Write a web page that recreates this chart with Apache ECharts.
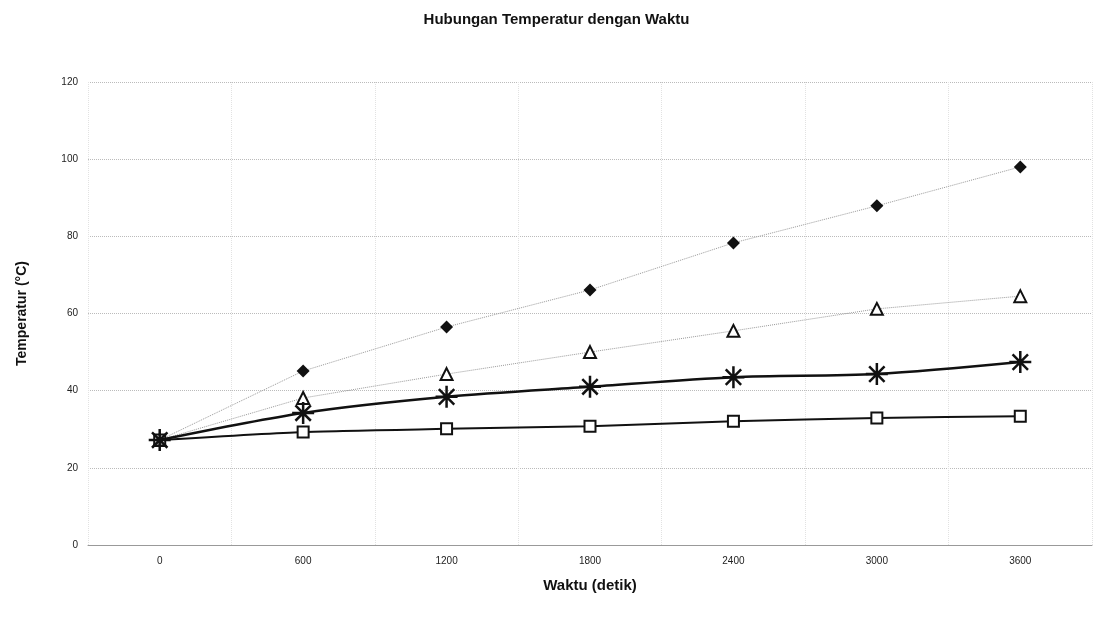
<!DOCTYPE html>
<html>
<head>
<meta charset="utf-8">
<script src="https://cdn.jsdelivr.net/npm/echarts@6/dist/echarts.min.js"></script>
<style>
	html, body { margin: 0; padding: 0; background: #fff; }
	#chart { width: 1113px; height: 622px; }
</style>
</head>
<body>
<div id="chart"></div>
<script>
// data waktu (detik) dan temperatur (°C)
var waktu = ['0', '600', '1200', '1800', '2400', '3000', '3600'];
var seriBelahKetupat = [27.2, 45.1, 56.5, 66.1, 78.3, 87.9, 98.0];
var seriSegitiga = [27.2, 38.1, 44.3, 50.0, 55.5, 61.2, 64.5];
var seriBintang = [27.2, 34.2, 38.4, 41.0, 43.5, 44.3, 47.4];
var seriKotak = [27.2, 29.3, 30.1, 30.8, 32.1, 32.9, 33.4];

// marker bintang (asterisk)
var asterisk = 'path://M0,-10L0,10M-10,0L10,0M-7,-7L7,7M-7,7L7,-7';

var option = {
	backgroundColor: '#fff',
	textStyle: {
		fontFamily: 'Liberation Sans, Arial, sans-serif'
	},
	title: {
		text: 'Hubungan Temperatur dengan Waktu',
		left: 'center',
		top: 7,
		textStyle: {
			fontSize: 15,
			fontWeight: 'bold',
			color: '#111'
		}
	},
	grid: {
		left: 88,
		right: 21,
		top: 82,
		bottom: 77
	},
	xAxis: {
		type: 'category',
		boundaryGap: true,
		data: waktu,
		name: 'Waktu (detik)',
		nameLocation: 'middle',
		nameGap: 33,
		nameTextStyle: {
			fontSize: 15,
			fontWeight: 'bold',
			color: '#111'
		},
		axisLine: {
			lineStyle: { color: '#999', width: 1 }
		},
		axisTick: { show: false },
		axisLabel: {
			fontSize: 10,
			color: '#222',
			margin: 11
		},
		splitLine: {
			show: true,
			lineStyle: { color: '#e2e2e2', type: 'dotted', width: 1 }
		}
	},
	yAxis: {
		type: 'value',
		min: 0,
		max: 120,
		interval: 20,
		name: 'Temperatur (°C)',
		nameLocation: 'middle',
		nameGap: 59,
		nameTextStyle: {
			fontSize: 14,
			fontWeight: 'bold',
			color: '#111'
		},
		axisLine: { show: false },
		axisTick: { show: false },
		axisLabel: {
			fontSize: 10,
			color: '#222',
			margin: 10
		},
		splitLine: {
			lineStyle: { color: '#bbb', type: 'dotted', width: 1 }
		}
	},
	series: [
		{
			type: 'line',
			data: seriBelahKetupat,
			symbol: 'diamond',
			symbolSize: 13,
			itemStyle: { color: '#111' },
			lineStyle: { color: '#999', type: 'dotted', width: 1 },
			z: 2
		},
		{
			type: 'line',
			data: seriSegitiga,
			symbol: 'triangle',
			symbolSize: 12,
			itemStyle: { color: '#fff', borderColor: '#111', borderWidth: 2 },
			lineStyle: { color: '#999', type: 'dotted', width: 1 },
			z: 3
		},
		{
			type: 'line',
			data: seriKotak,
			smooth: 0.2,
			symbol: 'rect',
			symbolSize: 11,
			itemStyle: { color: '#fff', borderColor: '#111', borderWidth: 2 },
			lineStyle: { color: '#111', width: 2 },
			z: 4
		},
		{
			type: 'line',
			data: seriBintang,
			smooth: 0.3,
			symbol: asterisk,
			symbolSize: 22,
			itemStyle: { color: '#111', borderColor: '#111', borderWidth: 2.5 },
			lineStyle: { color: '#111', width: 2.5 },
			z: 5
		}
	]
};

var chart = echarts.init(document.getElementById('chart'));
chart.setOption(option);
</script>
</body>
</html>
